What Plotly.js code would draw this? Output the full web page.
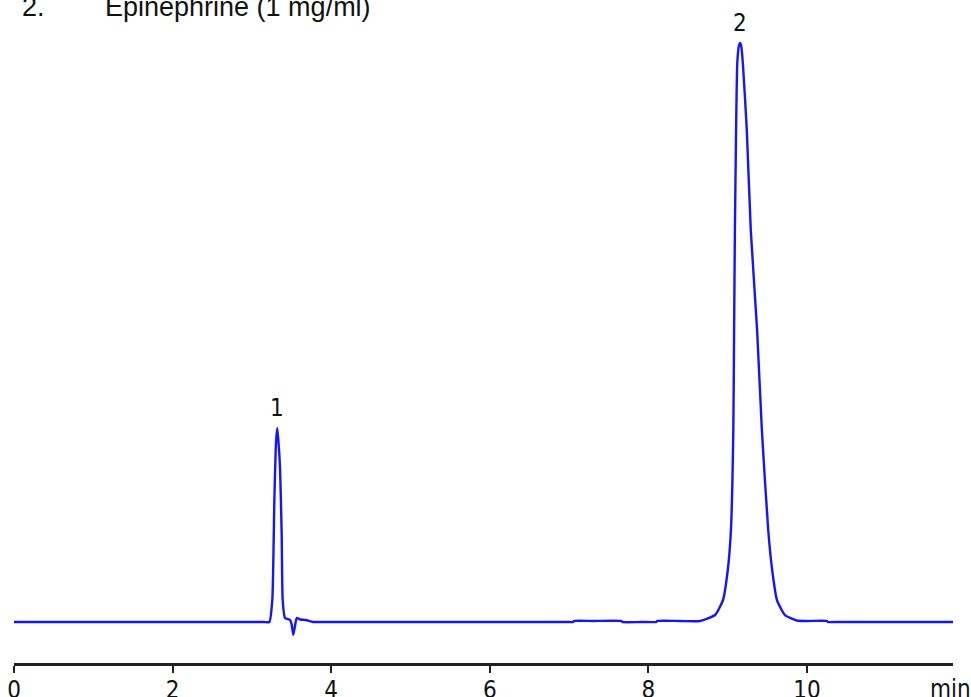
<!DOCTYPE html>
<html>
<head>
<meta charset="utf-8">
<script src="https://cdn.plot.ly/plotly-3.0.1.min.js"></script>
<style>
html,body{margin:0;padding:0;background:#fff;}
#chart{width:971px;height:697px;}
</style>
</head>
<body>
<div id="chart"></div>
<script>
// Retention time (min) and detector signal (arbitrary units, baseline = 0)
const timeMin = [
  0.00, 1.00, 2.00, 3.00, 3.15, 3.22, 3.257, 3.283, 3.304, 3.32, 3.335, 3.354, 3.375, 3.388, 3.417,
  3.48, 3.50, 3.522, 3.543, 3.565, 3.61, 3.68, 3.77, 3.85,
  4.50, 5.50, 6.50, 6.98, 7.05, 7.06, 7.30, 7.66, 7.67, 7.90, 8.10, 8.11, 8.40,
  8.65, 8.84, 8.94, 9.00, 9.04, 9.07, 9.08, 9.09, 9.105, 9.12, 9.14, 9.155, 9.17,
  9.19, 9.24, 9.29, 9.37, 9.43, 9.51, 9.56, 9.62, 9.72, 9.87, 10.00,
  10.25, 10.26, 10.40, 11.00, 11.84
];
const signal = [
  0, 0, 0, 0, 0, 0, 22, 122, 180, 194, 180, 155, 89, 22, 4,
  2, -2, -13, -4, 4, 2.5, 2, 0, 0,
  0, 0, 0, 0, 0, 1, 1, 1, 0, 0, 0, 1, 1,
  1, 7, 22, 52, 92, 192, 292, 392, 492, 559, 576, 579, 576,
  559, 492, 392, 292, 192, 92, 52, 22, 7, 1.5, 1,
  1, 0, 0, 0, 0
];
const peakNames = ["1", "2"];
const peakTimes = [3.32, 9.155];
const peakHeights = [194, 579];
const tickVals = [0, 2, 4, 6, 8, 10];
const tickText = ["0", "2", "4", "6", "8", "10"];
const unitLabel = "min";
const titleNumber = "2.";
const titleText = "Epinephrine (1 mg/ml)";

const narrow = "Liberation Sans Narrow, Arial Narrow, DejaVu Sans Condensed, sans-serif";
const sans = "Liberation Sans, Arial, sans-serif";

const annotations = peakNames.map((n, i) => ({
  x: peakTimes[i], y: peakHeights[i], xref: "x", yref: "y",
  text: n, showarrow: false, yanchor: "bottom", yshift: 4,
  font: {family: narrow, size: 24, color: "#111"}
}));

const trace = {
  x: timeMin, y: signal, type: "scatter", mode: "lines",
  line: {color: "#1414ff", width: 2.4, shape: "spline", smoothing: 0.5},
  hoverinfo: "skip"
};

const layout = {
  width: 971, height: 697,
  margin: {l: 14, r: 18, t: 0, b: 34},
  paper_bgcolor: "#fff", plot_bgcolor: "#fff",
  showlegend: false,
  xaxis: {
    range: [0, 11.84], showgrid: false, zeroline: false,
    showline: true, linecolor: "#222", linewidth: 3,
    ticks: "outside", ticklen: 7, tickwidth: 2, tickcolor: "#222",
    tickvals: tickVals, ticktext: tickText, ticklabelstandoff: -4,
    tickfont: {family: narrow, size: 24, color: "#111"}
  },
  yaxis: {
    range: [-41, 622], visible: false, showgrid: false, zeroline: false
  },
  annotations: annotations
};

Plotly.newPlot("chart", [trace], layout, {staticPlot: true}).then(() => {
  const fl = document.getElementById("chart")._fullLayout;
  const pw = fl._size.w, ph = fl._size.h, l = fl._size.l, t = fl._size.t;
  const px = (x) => (x - l) / pw;
  const py = (y) => 1 - (y - t) / ph;
  Plotly.relayout("chart", {
    annotations: layout.annotations.concat([
      {x: px(950), y: 0, xref: "paper", yref: "paper", text: unitLabel, showarrow: false,
       xanchor: "center", yanchor: "top", yshift: -10, font: {family: narrow, size: 24, color: "#111"}},
      {x: px(20), y: py(15), xref: "paper", yref: "paper", text: titleNumber, showarrow: false,
       xanchor: "left", yanchor: "bottom", yshift: -9, font: {family: sans, size: 27, color: "#111"}},
      {x: px(103), y: py(15), xref: "paper", yref: "paper", text: titleText, showarrow: false,
       xanchor: "left", yanchor: "bottom", yshift: -9, font: {family: sans, size: 27, color: "#111"}}
    ])
  });
});
</script>
</body>
</html>
